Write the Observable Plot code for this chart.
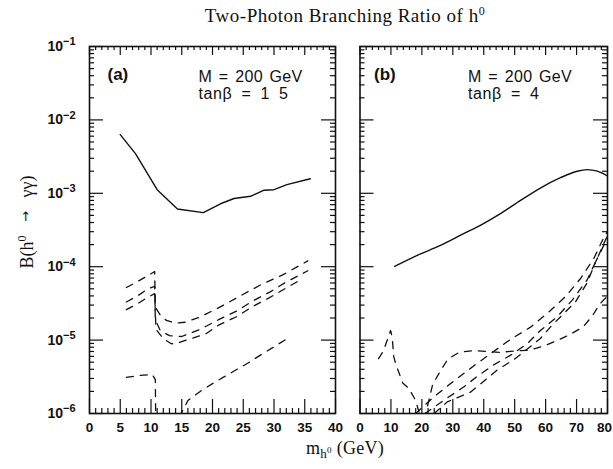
<!DOCTYPE html>
<html><head><meta charset="utf-8">
<script src="https://cdn.jsdelivr.net/npm/d3@7"></script>
<script src="https://cdn.jsdelivr.net/npm/@observablehq/plot@0.6"></script>
<style>
body{margin:0;background:#fff;}
#wrap{position:relative;width:613px;height:469px;overflow:hidden;background:#fff;}
.abs{position:absolute;}
#title{left:95px;width:500px;top:5px;text-align:center;font:19px "Liberation Serif",serif;letter-spacing:0.5px;color:#111;white-space:nowrap;}
#title sup{font-size:12px;vertical-align:7px;line-height:0;}
#xtitle{left:245px;width:200px;top:438px;text-align:center;font:18px "Liberation Serif",serif;letter-spacing:0.3px;color:#111;white-space:nowrap;}
#xtitle sub{font-size:13px;vertical-align:-4px;line-height:0;}
#xtitle sub sup{font-size:9px;vertical-align:5px;}
#ytitle{left:-92px;width:240px;top:211px;text-align:center;font:18px "Liberation Serif",serif;word-spacing:9px;color:#111;transform:rotate(-90deg);transform-origin:120px 11px;white-space:nowrap;}
#ytitle sup{font-size:12px;vertical-align:7px;line-height:0;}
#ytitle .arr{font-family:"DejaVu Sans",sans-serif;font-size:13px;vertical-align:3px;}
</style></head><body>
<div id="wrap">
 <div id="title" class="abs">Two-Photon Branching Ratio of h<sup>0</sup></div>
 <div id="ytitle" class="abs">B(h<sup>0</sup> <span class="arr">→</span> γγ)</div>
 <div id="xtitle" class="abs">m<sub>h<sup>0</sup></sub> (GeV)</div>
 <div id="pa" class="abs" style="left:0px;top:30px"></div>
 <div id="pb" class="abs" style="left:345px;top:30px"></div>
</div>
<script>
// ---------- data ----------
const panelLabels = ["(a)", "(b)"];
const massLabels = ["M = 200 GeV", "M = 200 GeV"];
const tanbLabels = ["tanβ = 1 5", "tanβ = 4"];
const xTicksA = [0, 5, 10, 15, 20, 25, 30, 35, 40];
const xTicksB = [0, 10, 20, 30, 40, 50, 60, 70, 80];
const yTicks = [1e-6, 1e-5, 1e-4, 1e-3, 1e-2, 1e-1];

// panel (a): tan beta = 1.5
const aSolid = [[5,6.3e-3],[7.5,3.45e-3],[11,1.12e-3],[14.3,6.1e-4],[18.5,5.45e-4],[21.3,7.2e-4],[23.5,8.5e-4],[26.2,9.1e-4],[28.3,1.1e-3],[30,1.12e-3],[32.1,1.31e-3],[35.9,1.58e-3]];
const aDashTop = [[6,5.2e-5],[8,6.4e-5],[10.2,8.2e-5],[10.6,8.6e-5],[10.7,2.8e-5],[11.5,2.2e-5],[12.5,1.85e-5],[14,1.7e-5],[15.5,1.75e-5],[18,2.07e-5],[21.5,2.9e-5],[24.5,4.0e-5],[27.9,5.7e-5],[31.5,7.8e-5],[35.5,1.2e-4]];
const aDashMid = [[6,3.3e-5],[8,4.1e-5],[9.5,5.0e-5],[10.6,5.4e-5],[10.7,1.9e-5],[11.5,1.35e-5],[13,1.15e-5],[15,1.12e-5],[18,1.4e-5],[21,1.9e-5],[24,2.5e-5],[26.5,3.4e-5],[29.3,4.5e-5],[32,6.2e-5],[35.5,8.8e-5]];
const aDashLow = [[6,2.6e-5],[8,3.2e-5],[9.4,3.8e-5],[10.6,4.3e-5],[10.8,1.4e-5],[12,1.05e-5],[13.3,8.9e-6],[14.5,9.2e-6],[16,1.02e-5],[18.8,1.2e-5],[21,1.6e-5],[24,2.1e-5],[26.3,2.8e-5],[28.8,3.6e-5],[31.2,4.7e-5],[34,6.4e-5]];
const aDashBottom1 = [[6,3.1e-6],[8,3.3e-6],[10.2,3.4e-6],[10.7,2.9e-6],[10.8,5e-7]];
const aDashBottom2 = [[14.6,9e-7],[16,1.5e-6],[18,2.0e-6],[20,2.55e-6],[22,3.2e-6],[24,4.0e-6],[26,5.0e-6],[28,6.4e-6],[30,8.1e-6],[32,1.03e-5]];

// panel (b): tan beta = 4
const bSolid = [[11.2,1.01e-4],[18.5,1.43e-4],[26,1.95e-4],[33.5,2.82e-4],[38.9,3.66e-4],[45.4,5.28e-4],[51.9,8.0e-4],[58.3,1.18e-3],[64.8,1.63e-3],[70.2,2.0e-3],[73.4,2.1e-3],[76.7,2.0e-3],[80,1.72e-3]];
const bDash1 = [[18,1.0e-6],[24,1.7e-6],[30.9,2.9e-6],[36.3,4.3e-6],[43.2,7.0e-6],[48.6,1.02e-5],[55.1,1.5e-5],[61,2.4e-5],[66.4,3.9e-5],[71.3,6.9e-5],[75.6,1.3e-4],[78.8,2.5e-4],[80,3.0e-4]];
const bDash2 = [[21,1.0e-6],[27,1.5e-6],[33.5,2.3e-6],[37.9,3.2e-6],[43.2,4.6e-6],[48.6,6.2e-6],[54,8.9e-6],[58.3,1.35e-5],[63.7,2.07e-5],[68.6,3.5e-5],[73.4,6.6e-5],[76.7,1.3e-4],[79.3,2.3e-4],[80,2.6e-4]];
const bDash3 = [[24,1.0e-6],[28.2,1.44e-6],[35.7,1.95e-6],[40,2.75e-6],[44.3,3.9e-6],[49.7,5.4e-6],[58.3,1.05e-5],[62.1,1.6e-5],[69.6,3.3e-5],[73.4,6.0e-5],[76.1,1.15e-4],[78.8,1.95e-4],[80,2.3e-4]];
const bDash4 = [[6,5.6e-6],[7.5,7e-6],[9.9,1.35e-5],[10.4,1.1e-5],[10.9,6e-6],[11.5,4.8e-6],[13.8,2.6e-6],[15.8,2.2e-6],[18,1.5e-6],[19.5,9e-7],[21,9e-7],[23.5,2.5e-6],[26,3.8e-6],[28.4,5.5e-6],[32,6.8e-6],[36.5,7.2e-6],[41,7.0e-6],[45,6.8e-6],[50,7.1e-6],[55,7.3e-6],[60,8.5e-6],[64,1.0e-5],[68,1.2e-5],[72,1.5e-5],[75,2.1e-5],[77.5,3.1e-5],[80,4.0e-5]];

// ---------- helpers ----------
function series(list) {
  const out = [];
  list.forEach((arr, k) => arr.forEach(([x, y]) => out.push({x, y, s: k})));
  return out;
}
function minorX(major) {
  const step = major[1] - major[0], sub = step / 5, res = [];
  for (let i = 0; i < major.length - 1; i++)
    for (let j = 1; j < 5; j++) res.push(major[i] + j * sub);
  return res;
}
const yMinor = [];
for (let e = -6; e < -1; e++) for (let m = 2; m <= 9; m++) yMinor.push(m * Math.pow(10, e));

function makePanel(opt) {
  const {width, marginLeft, marginRight, xDomain, xMajor, solid, dashed, idx, showY} = opt;
  const height = 420, marginTop = 16, marginBottom = 37;
  const iw = width - marginLeft - marginRight, ih = height - marginTop - marginBottom;
  const tk = {stroke: "#111", strokeWidth: 1.2};
  const xMinor = minorX(xMajor);
  const marks = [
    Plot.tickX(xMajor, {x: d => d, insetTop: ih - 14, ...tk}),
    Plot.tickX(xMinor, {x: d => d, insetTop: ih - 5, ...tk}),
    Plot.tickX(xMajor, {x: d => d, insetBottom: ih - 9, ...tk}),
    Plot.tickX(xMinor, {x: d => d, insetBottom: ih - 4, ...tk}),
    Plot.tickY(yTicks, {y: d => d, insetRight: iw - 14, ...tk}),
    Plot.tickY(yMinor, {y: d => d, insetRight: iw - 5, ...tk}),
    Plot.tickY(yTicks, {y: d => d, insetLeft: iw - 14, ...tk}),
    Plot.tickY(yMinor, {y: d => d, insetLeft: iw - 5, ...tk}),
    Plot.line(series(solid), {x: "x", y: "y", z: "s", stroke: "#111", strokeWidth: 1.4, clip: true, curve: opt.curve || "linear"}),
    Plot.line(series(dashed), {x: "x", y: "y", z: "s", stroke: "#111", strokeWidth: 1.3, strokeDasharray: "7,7", clip: true}),
    Plot.frame({stroke: "#111", strokeWidth: 1.6}),
    Plot.axisX({ticks: xMajor, tickSize: 0, tickPadding: 9, fontSize: 13.5, fontWeight: "bold", label: null, tickFormat: d => String(d)}),
    Plot.text([panelLabels[idx]], {frameAnchor: "top-left", dx: opt.labDx, dy: 33, text: d => d, textAnchor: "start", lineAnchor: "bottom", fontSize: 17, fontWeight: "bold"}),
    Plot.text([massLabels[idx]], {frameAnchor: "top-left", dx: opt.txtDx, dy: 35, text: d => d, textAnchor: "start", lineAnchor: "bottom", fontSize: 16}),
    Plot.text([tanbLabels[idx]], {frameAnchor: "top-left", dx: opt.txtDx, dy: 52, text: d => d, textAnchor: "start", lineAnchor: "bottom", fontSize: 16})
  ];
  if (showY) marks.push(Plot.axisY({ticks: yTicks, tickSize: 0, tickPadding: 14, fontSize: 14, fontWeight: "bold", label: null, tickFormat: d => "10^" + Math.round(Math.log10(d))}));
  const svg = Plot.plot({
    width, height, marginLeft, marginRight, marginTop, marginBottom,
    style: {fontFamily: "'Liberation Sans', Arial, sans-serif", color: "#111", background: "transparent", overflow: "visible"},
    x: {domain: xDomain},
    y: {type: "log", domain: [1e-6, 1e-1], axis: showY ? undefined : null},
    marks
  });
  // superscript exponents on y tick labels
  svg.querySelectorAll('[aria-label="y-axis tick label"] text').forEach(t => {
    const parts = t.textContent.split("^");
    if (parts.length !== 2) return;
    t.textContent = parts[0];
    const ts = document.createElementNS("http://www.w3.org/2000/svg", "tspan");
    ts.setAttribute("dy", "-0.5em");
    ts.setAttribute("font-size", "11");
    ts.textContent = parts[1].replace("-", "−");
    t.appendChild(ts);
  });
  // letter / word spacing of the in-panel annotations
  svg.querySelectorAll('g[aria-label="text"] text').forEach(t => {
    const s = t.textContent;
    if (s.startsWith("M")) { t.style.letterSpacing = "0.3px"; t.style.wordSpacing = "2px"; }
    else if (s.startsWith("tan")) { t.style.letterSpacing = "0.6px"; t.style.wordSpacing = "4px"; }
  });
  // keep the last x tick label inside the page
  if (opt.shiftLast) {
    const labs = svg.querySelectorAll('[aria-label="x-axis tick label"] text');
    const last = labs[labs.length - 1];
    if (last) last.setAttribute("dx", String(opt.shiftLast));
  }
  return svg;
}

document.getElementById("pa").appendChild(makePanel({
  width: 345, marginLeft: 89, marginRight: 10, xDomain: [0, 40], xMajor: xTicksA,
  solid: [aSolid], dashed: [aDashTop, aDashMid, aDashLow, aDashBottom1, aDashBottom2],
  idx: 0, showY: true, labDx: 18, txtDx: 109
}));
document.getElementById("pb").appendChild(makePanel({
  width: 268, marginLeft: 14.5, marginRight: 6, xDomain: [0, 80], xMajor: xTicksB,
  solid: [bSolid], dashed: [bDash1, bDash2, bDash3, bDash4],
  idx: 1, showY: false, labDx: 14, txtDx: 108, curve: "monotone-x", shiftLast: -3
}));
</script>
</body></html>
